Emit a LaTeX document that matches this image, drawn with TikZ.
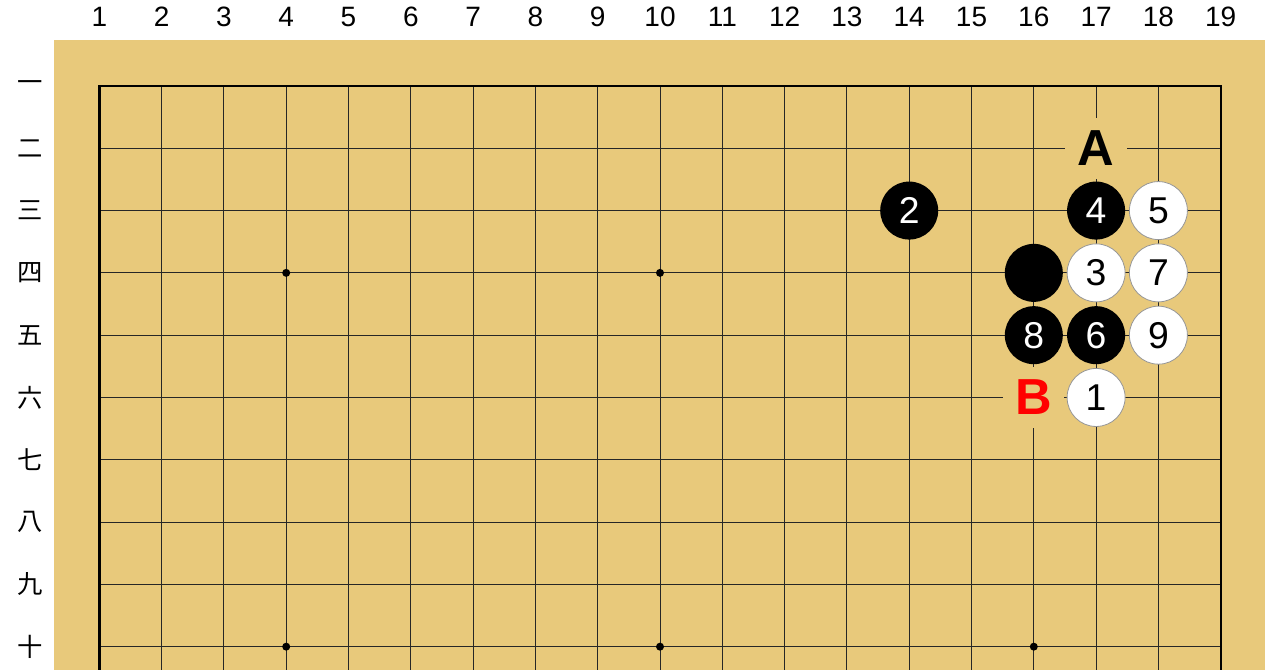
\documentclass[tikz,border=0pt]{standalone}
\usepackage{fontspec}
\setmainfont{Liberation Sans}
\newfontfamily\kanji{Noto Sans CJK JP}
\usetikzlibrary{positioning}
\definecolor{boardtan}{RGB}{232,201,123}
\definecolor{edgegray}{RGB}{150,150,150}

\begin{document}
\begin{tikzpicture}[x=46.725pt,y=-46.725pt,
    gridline/.style={line width=0.75pt,black!85},
    stone/.style={circle,inner sep=0pt,minimum size=43.5pt,font=\fontsize{28}{30}\selectfont},
    black stone/.style={stone,fill=black,text=white},
    white stone/.style={stone,fill=white,draw=edgegray,line width=0.6pt,text=black},
    hoshi/.style={circle,fill=black,inner sep=0pt,minimum size=6pt},
    letter/.style={fill=boardtan,inner sep=0pt,minimum size=46pt,font=\bfseries\fontsize{38}{40}\selectfont},
    collabel/.style={font=\fontsize{21}{23}\selectfont},
    rowlabel/.style={font=\kanji\fontsize{19}{21}\selectfont}]
  \useasboundingbox (-0.594,-0.380) rectangle (19.952,10.374);
  \clip (-0.594,-0.380) rectangle (19.952,10.374);
  \fill[white] (-0.594,-0.380) rectangle (19.952,10.374);
  \fill[boardtan] (0.273,0.262) rectangle (19.711,10.5);
  % grid
  \foreach \i in {2,...,18} {
    \draw[gridline] (\i,1) -- (\i,19);
    \draw[gridline] (1,\i) -- (19,\i);
  }
  \draw[line width=1.8pt] (1,1) rectangle (19,19);
  % star points
  \foreach \i/\j in {4/4,10/4,16/4,4/10,10/10,16/10}
    \node[hoshi] (h\i_\j) at (\i,\j) {};
  % coordinates
  \foreach \i in {1,...,19}
    \node[collabel] (c_\i) at (\i,-0.108) {\i};
  \foreach \k [count=\j] in {一,二,三,四,五,六,七,八,九,十}
    \node[rowlabel] (r_\j) at (-0.112,\j) {\k};
  % stones
  \node[black stone] (b_0) at (16,4) {};
  \node[white stone] (m_1) at (17,6) {1};
  \node[black stone] (m_2) at (14,3) {2};
  \node[white stone] (m_3) at (17,4) {3};
  \node[black stone] (m_4) at (17,3) {4};
  \node[white stone] (m_5) at (18,3) {5};
  \node[black stone] (m_6) at (17,5) {6};
  \node[white stone] (m_7) at (18,4) {7};
  \node[black stone] (m_8) at (16,5) {8};
  \node[white stone] (m_9) at (18,5) {9};
  % marks
  \node[letter] (p_A) at (17,2) {A};
  \node[letter,text=red] (p_B) at (16,6) {B};
\end{tikzpicture}
\end{document}
